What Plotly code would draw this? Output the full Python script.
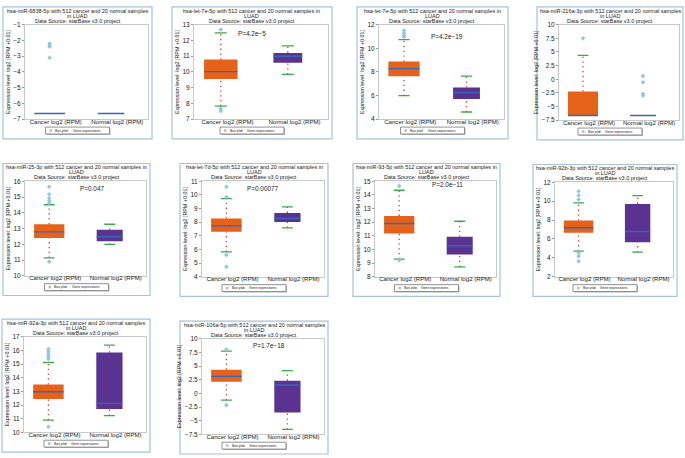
import numpy as np
import plotly.graph_objects as go

W, H = 685, 458

# ---------------- data ----------------
mirna = ["hsa-miR-6838-5p", "hsa-let-7e-5p", "hsa-let-7e-5p", "hsa-miR-216a-3p",
         "hsa-miR-25-3p", "hsa-let-7d-5p", "hsa-miR-93-5p", "hsa-miR-92b-3p",
         "hsa-miR-92a-3p", "hsa-miR-106a-5p"]
in_on_first_line = [False, True, True, False, True, True, True, False, False, False]
p_values = ["", "P=4.2e−5", "P=4.2e−19", "", "P=0.047", "P=0.00077",
            "P=2.0e−11", "", "", "P=1.7e−18"]
categories = ["Cancer log2 (RPM)", "Normal log2 (RPM)"]
y_min = [-7, 7, 4, -7.5, 10, 4, 8, 2, 10, -7.5]
y_max = [-1, 13, 12, 10, 16, 11, 15, 12, 17, 10]
y_step = [1, 1, 2, 2.5, 1, 1, 1, 2, 1, 2.5]

cancer_low = [-6.64, 7.83, 5.99, -6.64, 11.14, 5.83, 9.29, 4.71, 10.90, -1.23]
cancer_q1 = [-6.64, 9.56, 7.64, -6.64, 12.40, 7.29, 11.17, 6.65, 12.44, 2.14]
cancer_med = [-6.64, 10.02, 8.28, -6.64, 12.79, 7.73, 11.90, 7.18, 12.98, 3.12]
cancer_q3 = [-6.64, 10.79, 8.88, -2.25, 13.27, 8.27, 12.46, 7.95, 13.51, 4.35]
cancer_high = [-6.64, 12.48, 10.73, 4.39, 14.51, 9.73, 14.34, 9.82, 15.12, 7.73]

normal_low = [-6.64, 9.85, 4.61, -6.64, 11.99, 7.59, 8.73, 4.60, 11.22, -6.58]
normal_q1 = [-6.64, 10.58, 5.71, -6.64, 12.19, 8.02, 9.63, 5.66, 11.71, -3.50]
normal_med = [-6.64, 11.00, 6.26, -6.64, 12.48, 8.27, 10.27, 6.79, 12.12, 1.53]
normal_q3 = [-6.64, 11.21, 6.68, -6.64, 12.92, 8.68, 10.93, 9.71, 15.85, 2.33]
normal_high = [-6.64, 11.65, 7.64, -6.64, 13.27, 9.12, 12.07, 10.59, 16.39, 4.17]

cancer_outliers = [
    [-2.2, -2.3, -2.4, -3.1],
    [12.69, 7.67, 7.52],
    [11.5, 11.28, 11.09, 10.95],
    [7.5],
    [15.65, 15.17, 14.92, 14.78, 14.61, 10.89],
    [10.59, 9.85, 5.59, 4.73],
    [14.66, 9.22],
    [11.05, 10.59, 10.17, 4.54, 4.18, 3.65],
    [16.1, 15.9, 15.71, 15.54, 15.37, 10.41],
    [8.04, -2.15],
]
normal_outliers = [[], [], [], [0.58, -0.56, -2.67, -3.03], [], [], [], [], [], []]

# ---------------- layout helpers (pixels) ----------------
frames = [  # left, top, right, bottom
    (3, 3, 152, 137), (172, 3, 332, 137), (357, 3, 508, 137), (537, 3, 683, 138),
    (3, 162, 150, 296), (180, 162, 328, 297), (353, 162, 500, 297), (533, 163, 677, 297),
    (2, 320, 150, 455), (180, 322, 328, 457),
]
p_pos = [None, (0.43, 0.095), (0.54, 0.12), None, (0.55, 0.076), (0.5, 0.076),
         (0.6, 0.035), None, None, (0.55, 0.07)]

ORANGE = "#E6621A"
PURPLE = "#5A3291"
BLUE = "#3C64B4"
RED = "#E03A2A"
GREEN = "#3BAA48"
LIGHTBLUE = "#8CC6E8"
FONT = "Liberation Sans, Arial, sans-serif"
TXT = "#222222"


def px(x):
    return x / W


def py(y):
    return 1 - y / H


fig = go.Figure()
shapes = []
annotations = []

offset = -0.1
widths = [0.5, 0.43]

for i in range(10):
    ax = "" if i == 0 else str(i + 1)
    xr, yr = "x" + ax, "y" + ax
    fl, ft, fr, fb = frames[i]
    stats = [
        (cancer_low[i], cancer_q1[i], cancer_med[i], cancer_q3[i], cancer_high[i], cancer_outliers[i], ORANGE),
        (normal_low[i], normal_q1[i], normal_med[i], normal_q3[i], normal_high[i], normal_outliers[i], PURPLE),
    ]
    for k, (lo, q1, med, q3, hi, outs, col) in enumerate(stats):
        xc = k + offset
        w = widths[k]
        # whiskers (dotted)
        wx, wy = [], []
        if hi > q3:
            wx += [xc, xc, None]
            wy += [q3, hi, None]
        if lo < q1:
            wx += [xc, xc, None]
            wy += [lo, q1, None]
        if wx:
            fig.add_trace(go.Scatter(x=wx, y=wy, mode="lines", xaxis=xr, yaxis=yr,
                                     line=dict(color=RED, width=1.3, dash="1.3px,3.5px"),
                                     hoverinfo="skip", showlegend=False))
        # box
        if q3 > q1:
            fig.add_trace(go.Bar(x=[xc], y=[q3 - q1], base=[q1], width=[w], xaxis=xr, yaxis=yr,
                                 marker=dict(color=col, line=dict(width=0)),
                                 showlegend=False, hoverinfo="skip"))
        # caps
        cx, cy = [], []
        if hi > q3:
            cx += [xc - 0.09, xc + 0.09, None]
            cy += [hi, hi, None]
        if lo < q1:
            cx += [xc - 0.09, xc + 0.09, None]
            cy += [lo, lo, None]
        if cx:
            fig.add_trace(go.Scatter(x=cx, y=cy, mode="lines", xaxis=xr, yaxis=yr,
                                     line=dict(color=GREEN, width=1.3),
                                     hoverinfo="skip", showlegend=False))
        # median
        fig.add_trace(go.Scatter(x=[xc - w / 2, xc + w / 2], y=[med, med], mode="lines",
                                 xaxis=xr, yaxis=yr, line=dict(color=BLUE, width=1.4),
                                 hoverinfo="skip", showlegend=False))
        # outliers
        if outs:
            fig.add_trace(go.Scatter(x=[xc] * len(outs), y=outs, mode="markers",
                                     xaxis=xr, yaxis=yr,
                                     marker=dict(symbol="diamond", size=3.5, color=LIGHTBLUE),
                                     hoverinfo="skip", showlegend=False))

    # axes
    pl, pt, pr, pb = fl + 22, ft + 18, fr - 4, fb - 20
    ticks = list(np.arange(y_min[i], y_max[i] + 1e-9, y_step[i]))
    fig.update_layout(**{
        "xaxis" + ax: dict(domain=[px(pl), px(pr)], range=[-0.5, 1.5], anchor=yr,
                           tickvals=[0, 1], ticktext=categories, showline=True, mirror=True,
                           linecolor="#C8C8C8", linewidth=1, showgrid=False, zeroline=False,
                           ticks="", ticklen=0, tickangle=0, ticklabelstandoff=-4,
                           tickfont=dict(size=6.1, color=TXT, family=FONT),
                           fixedrange=True),
        "yaxis" + ax: dict(domain=[py(pb), py(pt)], range=[y_min[i], y_max[i]], anchor=xr,
                           tickvals=ticks, showline=True, mirror=True, linecolor="#C8C8C8",
                           linewidth=1, showgrid=False, zeroline=False, ticks="outside",
                           ticklen=2, tickcolor="#999999",
                           tickfont=dict(size=6.5, color=TXT, family=FONT),
                           title=dict(text="Expression level: log2 [RPM +0.01]",
                                      font=dict(size=5.4, color=TXT, family=FONT), standoff=2),
                           fixedrange=True),
    })

    # frame
    shapes.append(dict(type="rect", xref="paper", yref="paper", x0=px(fl), x1=px(fr),
                       y0=py(fb), y1=py(ft), line=dict(color="#A6C2DC", width=1.2)))
    # title
    cx_ = px((fl + fr) / 2)
    if in_on_first_line[i]:
        l1 = mirna[i] + " with 512 cancer and 20 normal samples in"
        l2 = "LUAD"
    else:
        l1 = mirna[i] + " with 512 cancer and 20 normal samples"
        l2 = "in LUAD"
    for j, t in enumerate([l1, l2, "Data Source: starBase v3.0 project"]):
        annotations.append(dict(text=t, x=cx_, y=py(ft + 4 + 5 * j), xref="paper", yref="paper",
                                showarrow=False, xanchor="center", yanchor="middle",
                                font=dict(size=5.5, color=TXT, family=FONT)))
    # p-value
    if p_values[i]:
        fx, fy = p_pos[i]
        annotations.append(dict(text=p_values[i], x=px(pl + fx * (pr - pl)), y=py(pt + fy * (pb - pt)),
                                xref="paper", yref="paper", showarrow=False,
                                xanchor="center", yanchor="middle",
                                font=dict(size=6.4, color=TXT, family=FONT)))
    # legend
    lc = (fl + fr) / 2
    L0, L1 = lc - 32, lc + 32
    T0, T1 = fb - 12, fb - 5
    shapes.append(dict(type="rect", xref="paper", yref="paper", x0=px(L0 + 1), x1=px(L1 + 1),
                       y0=py(T1 + 1), y1=py(T0 + 1), line=dict(width=0), fillcolor="#BBBBBB"))
    shapes.append(dict(type="rect", xref="paper", yref="paper", x0=px(L0), x1=px(L1),
                       y0=py(T1), y1=py(T0), line=dict(color="#777777", width=0.8),
                       fillcolor="white"))
    shapes.append(dict(type="rect", xref="paper", yref="paper", x0=px(L0 + 4), x1=px(L0 + 6.5),
                       y0=py(T1 - 2.2), y1=py(T0 + 2.2), line=dict(width=0), fillcolor="#BBBBBB"))
    annotations.append(dict(text="Box plot", x=px(L0 + 7.5), y=py((T0 + T1) / 2), xref="paper",
                            yref="paper", showarrow=False, xanchor="left", yanchor="middle",
                            font=dict(size=3.4, color=TXT, family=FONT)))
    shapes.append(dict(type="circle", xref="paper", yref="paper", x0=px(L0 + 21), x1=px(L0 + 23),
                       y0=py((T0 + T1) / 2 + 1), y1=py((T0 + T1) / 2 - 1), line=dict(width=0),
                       fillcolor=LIGHTBLUE))
    annotations.append(dict(text="Gene expressions", x=px(L0 + 25), y=py((T0 + T1) / 2),
                            xref="paper", yref="paper", showarrow=False, xanchor="left",
                            yanchor="middle", font=dict(size=3.4, color=TXT, family=FONT)))

fig.update_layout(width=W, height=H, margin=dict(l=0, r=0, t=0, b=0),
                  paper_bgcolor="white", plot_bgcolor="white", barmode="overlay",
                  shapes=shapes, annotations=annotations, showlegend=False,
                  font=dict(family=FONT, color=TXT))

fig.write_html("out.html", config={"displayModeBar": False},
               post_script="document.body.style.margin='0';document.body.style.overflow='hidden';")
